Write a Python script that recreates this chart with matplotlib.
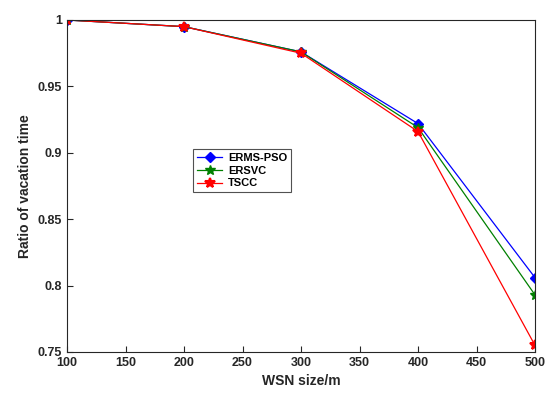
import matplotlib
matplotlib.use("Agg")
import matplotlib.pyplot as plt

# ---------- Data ----------
wsn_size = [100, 200, 300, 400, 500]
erms_pso = [1.0, 0.995, 0.976, 0.922, 0.806]
ersvc = [1.0, 0.995, 0.976, 0.919, 0.793]
tscc = [1.0, 0.995, 0.975, 0.916, 0.755]

x_ticks = [100, 150, 200, 250, 300, 350, 400, 450, 500]
y_ticks = [0.75, 0.8, 0.85, 0.9, 0.95, 1.0]
y_labels = ["0.75", "0.8", "0.85", "0.9", "0.95", "1"]

plt.rcParams["font.family"] = ["Liberation Sans", "DejaVu Sans"]
plt.rcParams["font.weight"] = "bold"

fig = plt.figure(figsize=(5.5, 3.98), dpi=100)
ax = fig.add_axes([67 / 550, 1 - 352 / 398, (535 - 67) / 550, (352 - 20) / 398])

ax.plot(wsn_size, erms_pso, color="#0000ff", marker="D", markersize=5, lw=0.9, label="ERMS-PSO")
ax.plot(wsn_size, ersvc, color="#008000", marker="*", markersize=7, lw=0.9, label="ERSVC")
ax.plot(wsn_size, tscc, color="#ff0000", marker="*", markersize=7, lw=0.9, label="TSCC",
        markeredgewidth=1.5)

ax.set_xlim(100, 500)
ax.set_ylim(0.75, 1.0)
ax.set_xticks(x_ticks)
ax.set_yticks(y_ticks)
ax.set_yticklabels(y_labels)
ax.tick_params(direction="in", labelsize=9, colors="#262626", length=4)
for s in ax.spines.values():
    s.set_color("#262626")
    s.set_linewidth(0.8)

ax.set_xlabel("WSN size/m", fontsize=10, fontweight="bold", color="#262626")
ax.set_ylabel("Ratio of vacation time", fontsize=10, fontweight="bold", color="#262626")

leg = ax.legend(loc="upper left", bbox_to_anchor=(126 / 468, 1 - 129 / 332), fontsize=8,
                frameon=True, fancybox=False, edgecolor="#262626", borderpad=0.35,
                handlelength=2.3, handletextpad=0.5, labelspacing=0.25, borderaxespad=0)
leg.get_frame().set_linewidth(0.8)

fig.savefig("out.png", dpi=100)
